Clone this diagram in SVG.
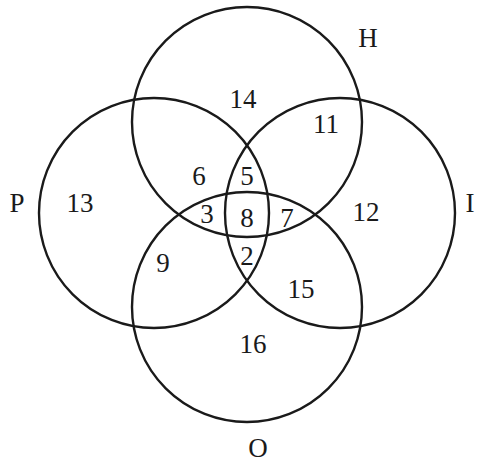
<svg xmlns="http://www.w3.org/2000/svg" width="478" height="463" viewBox="0 0 478 463">
<style>
.c{fill:none;stroke:#1a1a1a;stroke-width:2.4}
text{font-family:"Liberation Serif",serif;font-size:27px;fill:#1a1a1a;text-anchor:middle}
</style>
<rect width="478" height="463" fill="#fff"/>
<g id="H"><circle class="c" cx="247" cy="122" r="115"/><text x="368" y="47">H</text></g>
<g id="P"><circle class="c" cx="154" cy="213" r="115"/><text x="17" y="212">P</text></g>
<g id="I"><circle class="c" cx="340" cy="213" r="115"/><text x="470" y="212">I</text></g>
<g id="O"><circle class="c" cx="247" cy="307" r="115"/><text x="258" y="457">O</text></g>
<g id="regions">
<text x="243" y="108">14</text>
<text x="326" y="133">11</text>
<text x="199" y="185">6</text>
<text x="247" y="185">5</text>
<text x="80" y="212">13</text>
<text x="207" y="223">3</text>
<text x="247" y="227">8</text>
<text x="287" y="227">7</text>
<text x="366" y="221">12</text>
<text x="163" y="272">9</text>
<text x="247" y="265">2</text>
<text x="301" y="298">15</text>
<text x="253" y="353">16</text>
</g>
<g id="connectors"/>
</svg>
